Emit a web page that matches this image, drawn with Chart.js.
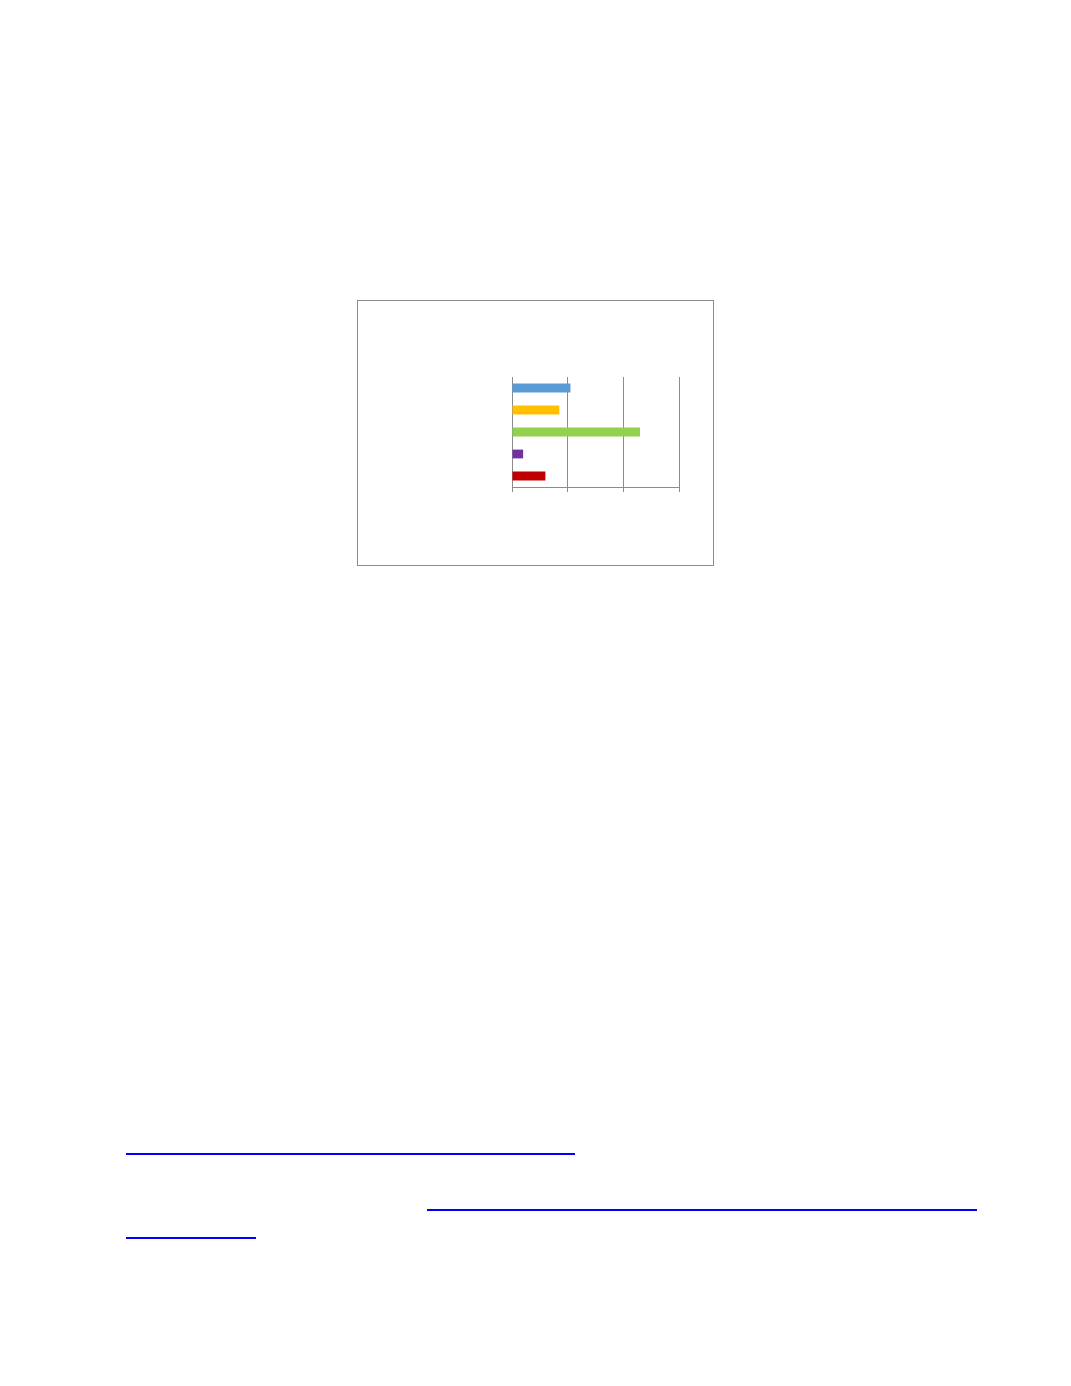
<!DOCTYPE html>
<html>
<head>
<meta charset="utf-8">
<script src="https://cdn.jsdelivr.net/npm/chart.js@4"></script>
<style>
  html, body { margin: 0; padding: 0; background: #fff; }
  body { width: 1071px; height: 1386px; position: relative; font-family: "Liberation Sans", Arial, sans-serif; }
  .frame { position: absolute; left: 357px; top: 300px; width: 355px; height: 264px; border: 1px solid #8c8c8c; }
  .link { position: absolute; height: 0; border-top: 2px solid #0000ff; }
</style>
</head>
<body>
<div class="frame"><canvas id="grafico" width="355" height="264"></canvas></div>

<div class="link" style="left:126px; top:1153px; width:449px;"></div>
<div class="link" style="left:427px; top:1209px; width:550px;"></div>
<div class="link" style="left:126px; top:1237px; width:130px;"></div>

<script>
const categorias = ['1', '2', '3', '4', '5'];
const valores = [21, 17, 46, 4, 12];
const colores = ['#5b9bd5', '#ffc000', '#92d050', '#7030a0', '#c00000'];
const ticksX = [0, 20, 40, 60];

const ctx = document.getElementById('grafico');
new Chart(ctx, {
  type: 'bar',
  data: {
    labels: categorias,
    datasets: [{
      data: valores,
      backgroundColor: colores,
      borderWidth: 0,
      barPercentage: 0.4,
      categoryPercentage: 1.0
    }]
  },
  options: {
    indexAxis: 'y',
    responsive: false,
    animation: false,
    layout: { padding: { left: 154, right: 34, top: 76, bottom: 73 } },
    plugins: { legend: { display: false }, tooltip: { enabled: false } },
    scales: {
      x: {
        min: ticksX[0],
        max: ticksX[ticksX.length - 1],
        afterBuildTicks: (axis) => { axis.ticks = ticksX.map(v => ({ value: v })); },
        ticks: { display: false },
        grid: { color: '#8c8c8c', lineWidth: 1, drawTicks: true, tickLength: 5 },
        border: { display: true, color: '#8c8c8c', width: 1 }
      },
      y: {
        display: false
      }
    }
  }
});
</script>
</body>
</html>
